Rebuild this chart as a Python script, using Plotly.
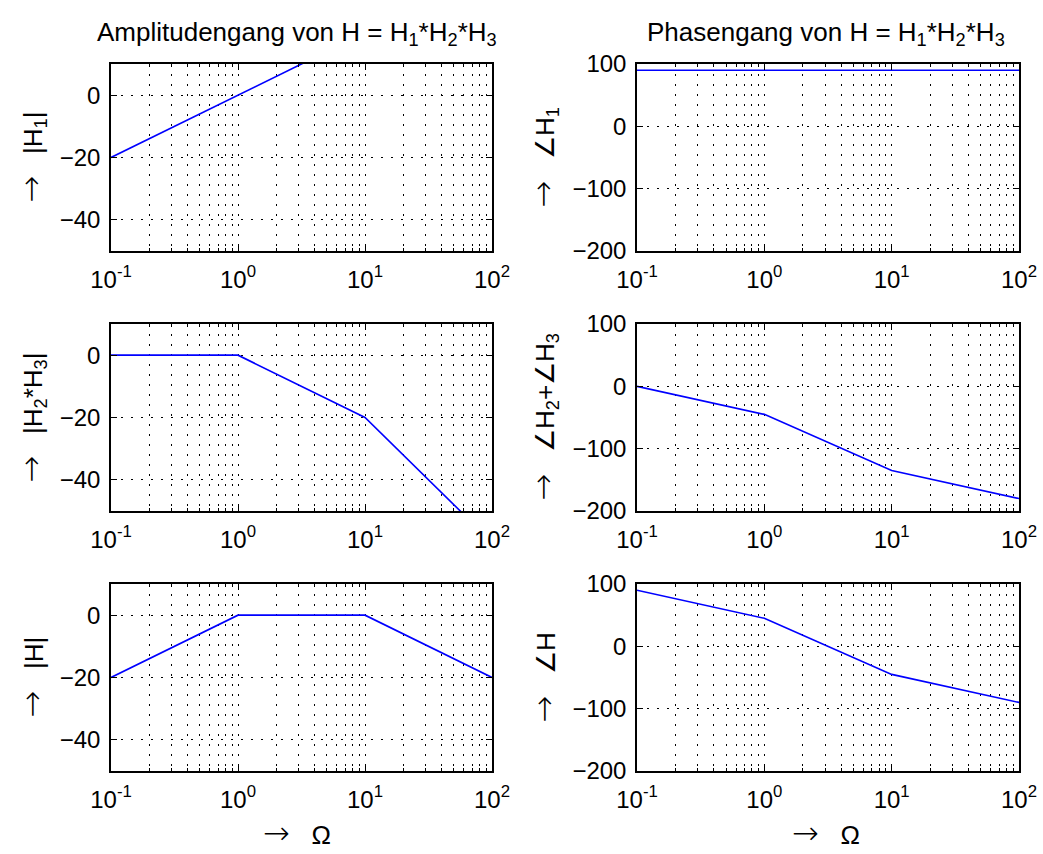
import plotly.graph_objects as go
from plotly.subplots import make_subplots

# ---- data ----
omega = [0.1, 1, 10, 100]
mag_H1 = [-20, 0, 20, 40]
mag_H23 = [0, 0, -20, -60]
mag_H = [-20, 0, 0, -20]
phase_H1 = [90, 90, 90, 90]
phase_H23 = [0, -45, -135, -180]
phase_H = [90, 45, -45, -90]

x_tickvals = [0.1, 1, 10, 100]
x_ticktext = ["10<sup>-1</sup>", "10<sup>0</sup>", "10<sup>1</sup>", "10<sup>2</sup>"]
x_minor = [m * d for d in [0.1, 1, 10] for m in range(2, 10)]
mag_ticks = [-40, -20, 0]
phase_ticks = [-200, -100, 0, 100]

ARROW = '<span style="font-family:DejaVu Sans;font-weight:200;font-size:32px">→</span>'
SP = "\u00a0\u00a0\u00a0"
ylabels_left = [ARROW + SP + "|H<sub>1</sub>|", ARROW + SP + "|H<sub>2</sub>*H<sub>3</sub>|", ARROW + SP + "|H|"]
ylabels_right = [ARROW + SP + "∠H<sub>1</sub>", ARROW + SP + "∠H<sub>2</sub>+∠H<sub>3</sub>", ARROW + SP + "∠H"]
title_left = "Amplitudengang von H = H<sub>1</sub>*H<sub>2</sub>*H<sub>3</sub>"
title_right = "Phasengang von H = H<sub>1</sub>*H<sub>2</sub>*H<sub>3</sub>"
xlabel = ARROW + SP + "Ω"

W, H = 1043, 854
FONT = "Liberation Sans, Arial, sans-serif"
FS = 24
FS_LABEL = 26

fig = make_subplots(rows=3, cols=2)

series = [(mag_H1, 1, 1), (phase_H1, 1, 2), (mag_H23, 2, 1), (phase_H23, 2, 2), (mag_H, 3, 1), (phase_H, 3, 2)]
for ys, r, c in series:
    fig.add_trace(go.Scatter(x=omega, y=ys, mode="lines", line=dict(color="#0000ff", width=1.6),
                             showlegend=False, hoverinfo="skip"), row=r, col=c)

# pixel geometry
xl = (111, 492)
xr = (637, 1019)
rows_px = [(64, 251), (324, 511), (584, 771)]

def xd(p):
    return [p[0] / W, p[1] / W]

def yd(p):
    return [1 - p[1] / H, 1 - p[0] / H]

grid_dash = "2px,8px"
for i, r0 in enumerate(rows_px):
    for j, xp in enumerate([xl, xr]):
        idx = i * 2 + j + 1
        xa = "xaxis" if idx == 1 else f"xaxis{idx}"
        ya = "yaxis" if idx == 1 else f"yaxis{idx}"
        is_mag = (j == 0)
        fig.layout[xa].update(
            type="log", domain=xd(xp), range=[-1, 2], automargin=False,
            tickmode="array", tickvals=x_tickvals, ticktext=x_ticktext,
            showline=True, linecolor="black", linewidth=1.5, mirror="ticks",
            ticks="inside", ticklen=6, tickcolor="black", tickwidth=1,
            showgrid=True, gridcolor="black", gridwidth=1, griddash=grid_dash,
            minor=dict(tickmode="array", tickvals=x_minor, ticks="inside", ticklen=3,
                       tickcolor="black", showgrid=True, gridcolor="black", gridwidth=1,
                       griddash=grid_dash),
            tickfont=dict(family=FONT, size=FS, color="black"),
            zeroline=False, ticklabelstandoff=6,
        )
        fig.layout[ya].update(
            domain=yd(r0), automargin=False,
            range=[-50, 10] if is_mag else [-200, 100],
            tickmode="array", tickvals=mag_ticks if is_mag else phase_ticks,
            showline=True, linecolor="black", linewidth=1.5, mirror="ticks",
            ticks="inside", ticklen=6, tickcolor="black", tickwidth=1,
            showgrid=True, gridcolor="black", gridwidth=1, griddash=grid_dash,
            tickfont=dict(family=FONT, size=FS, color="black"),
            zeroline=False, ticklabelstandoff=4,
        )

ann = []
for i, r0 in enumerate(rows_px):
    yc = 1 - ((r0[0] + r0[1]) / 2) / H
    ann.append(dict(text=ylabels_left[i], x=31 / W, y=yc, xref="paper", yref="paper",
                    textangle=-90, showarrow=False, xanchor="center", yanchor="middle",
                    font=dict(family=FONT, size=FS_LABEL, color="black")))
    ann.append(dict(text=ylabels_right[i], x=543 / W, y=yc, xref="paper", yref="paper",
                    textangle=-90, showarrow=False, xanchor="center", yanchor="middle",
                    font=dict(family=FONT, size=FS_LABEL, color="black")))
ann.append(dict(text=title_left, x=297 / W, y=1 - 33 / H, xref="paper", yref="paper",
                showarrow=False, xanchor="center", yanchor="middle",
                font=dict(family=FONT, size=FS_LABEL, color="black")))
ann.append(dict(text=title_right, x=826 / W, y=1 - 33 / H, xref="paper", yref="paper",
                showarrow=False, xanchor="center", yanchor="middle",
                font=dict(family=FONT, size=FS_LABEL, color="black")))
ann.append(dict(text=xlabel, x=297 / W, y=1 - 833 / H, xref="paper", yref="paper",
                showarrow=False, xanchor="center", yanchor="middle",
                font=dict(family=FONT, size=FS_LABEL, color="black")))
ann.append(dict(text=xlabel, x=826 / W, y=1 - 833 / H, xref="paper", yref="paper",
                showarrow=False, xanchor="center", yanchor="middle",
                font=dict(family=FONT, size=FS_LABEL, color="black")))

fig.update_layout(
    width=W, height=H, margin=dict(l=0, r=0, t=0, b=0, autoexpand=False),
    paper_bgcolor="white", plot_bgcolor="white",
    annotations=ann, showlegend=False,
)

fig.write_html("out.html")
